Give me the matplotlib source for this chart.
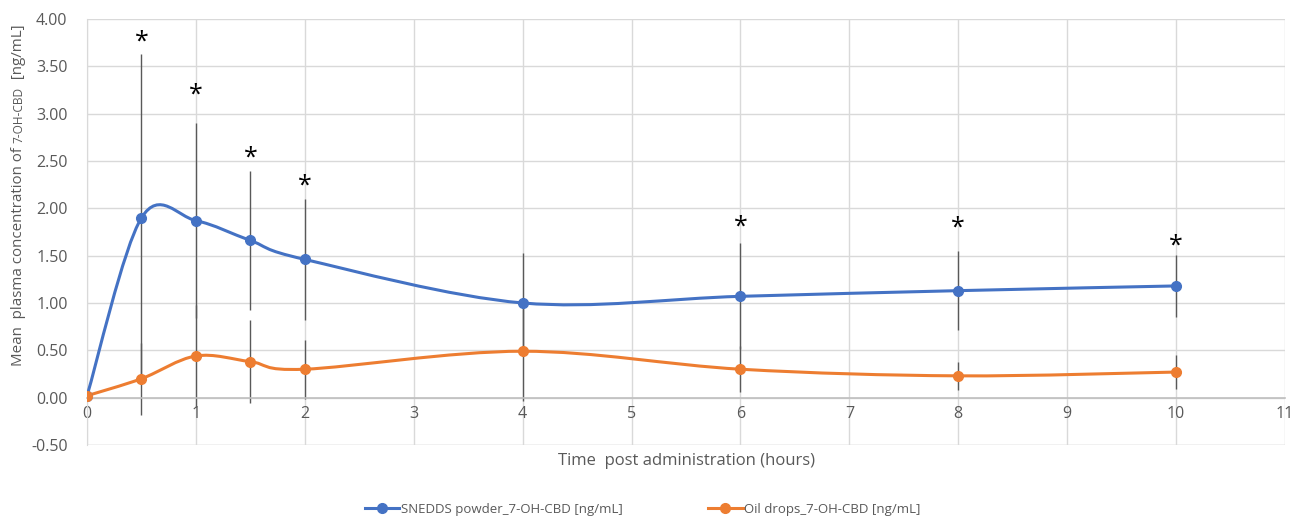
import matplotlib
matplotlib.use("Agg")
import matplotlib.pyplot as plt
from matplotlib.path import Path
from matplotlib.patches import PathPatch
from matplotlib.lines import Line2D
import numpy as np

# data
hours = [0, 0.5, 1, 1.5, 2, 4, 6, 8, 10]
snedds = [0.02, 1.90, 1.87, 1.66, 1.46, 1.00, 1.07, 1.13, 1.18]
snedds_sd = [0.0, 1.73, 1.03, 0.73, 0.64, 0.53, 0.56, 0.42, 0.33]
oil = [0.02, 0.20, 0.44, 0.38, 0.30, 0.49, 0.30, 0.23, 0.27]
oil_sd = [0.0, 0.38, 0.54, 0.44, 0.31, 0.53, 0.24, 0.15, 0.18]
star_hours = [0.5, 1, 1.5, 2, 6, 8, 10]
star_y = [3.76, 3.20, 2.53, 2.23, 1.80, 1.79, 1.60]

blue = "#4472C4"
orange = "#ED7D31"
grey = "#595959"

plt.rcParams['font.family'] = ['Open Sans', 'DejaVu Sans']


def smooth_path(xs, ys):
    # Excel-style smoothed line: cubic bezier through the points
    pts = np.column_stack([xs, ys])
    n = len(pts)
    verts = [pts[0]]
    codes = [Path.MOVETO]
    for i in range(n - 1):
        p_prev = pts[i - 1] if i > 0 else pts[i]
        p_next2 = pts[i + 2] if i + 2 < n else pts[i + 1]
        c1 = pts[i] + (pts[i + 1] - p_prev) / 6
        c2 = pts[i + 1] - (p_next2 - pts[i]) / 6
        verts += [c1, c2, pts[i + 1]]
        codes += [Path.CURVE4] * 3
    return Path(verts, codes)


fig = plt.figure(figsize=(13.01, 5.21), dpi=100)
ax = fig.add_axes([0.0669, 0.146, 0.9208, 0.8175])

# error bars
ax.errorbar(hours, snedds, yerr=snedds_sd, fmt="none", ecolor=grey, elinewidth=1.0, capsize=0, zorder=2)
ax.errorbar(hours, oil, yerr=oil_sd, fmt="none", ecolor=grey, elinewidth=1.0, capsize=0, zorder=2)

# smoothed lines
for ys, col in [(snedds, blue), (oil, orange)]:
    ax.add_patch(PathPatch(smooth_path(hours, ys), facecolor="none", edgecolor=col, lw=2.2, zorder=3))
    ax.plot(hours, ys, "o", color=col, ms=7, zorder=4)

for x, y in zip(star_hours, star_y):
    ax.text(x, y, "*", ha="center", va="center", fontsize=18, color="black", zorder=5)

ax.set_xlim(0, 11)
ax.set_ylim(-0.5, 4.0)
ax.set_xticks(range(0, 12))
ax.set_yticks(np.arange(-0.5, 4.01, 0.5))
ax.set_yticklabels([f"{v:.2f}" for v in np.arange(-0.5, 4.01, 0.5)])
ax.grid(True, color="#d9d9d9", lw=1.0, zorder=0)
ax.set_axisbelow(True)

for s in ["top", "right"]:
    ax.spines[s].set_visible(False)
ax.spines["left"].set_color("#d9d9d9")
ax.spines["bottom"].set_position(("data", 0))
ax.spines["bottom"].set_color("#bfbfbf")
ax.spines["bottom"].set_linewidth(1.2)
ax.axhline(-0.5, color="#d9d9d9", lw=1.0, zorder=0)
ax.tick_params(axis="both", length=0, labelsize=11.5, labelcolor=grey)
ax.tick_params(axis="y", pad=14)
ax.tick_params(axis="x", pad=6)

fig.text(0.528, 0.115, "Time  post administration (hours)", ha="center", va="center", fontsize=12, color=grey)

# y label in three pieces, the compound name in a smaller size
fig.canvas.draw()
r = fig.canvas.get_renderer()
parts = [("Mean  plasma concentration of ", 10.9), ("7-OH-CBD", 8.6), ("  [ng/mL]", 10.9)]
texts = []
for txt, fs in parts:
    t = fig.text(0.0145, 0, txt, rotation=90, ha="left", va="center", fontsize=fs, color=grey,
                 rotation_mode="anchor")
    texts.append(t)
heights = [t.get_window_extent(r).height / fig.bbox.height for t in texts]
ypos = 0.626 - sum(heights) / 2
for t, h in zip(texts, heights):
    t.set_y(ypos)
    ypos += h

handles = [Line2D([], [], color=blue, lw=2.2, marker="o", ms=7),
           Line2D([], [], color=orange, lw=2.2, marker="o", ms=7)]
fig.legend(handles, ["SNEDDS powder_7-OH-CBD [ng/mL]", "Oil drops_7-OH-CBD [ng/mL]"],
           loc="center", bbox_to_anchor=(0.494, 0.022), ncol=2, frameon=False, fontsize=9.5,
           labelcolor=grey, handlelength=2.6, handletextpad=0.1, columnspacing=6.5)

fig.savefig("out.png", dpi=100)
